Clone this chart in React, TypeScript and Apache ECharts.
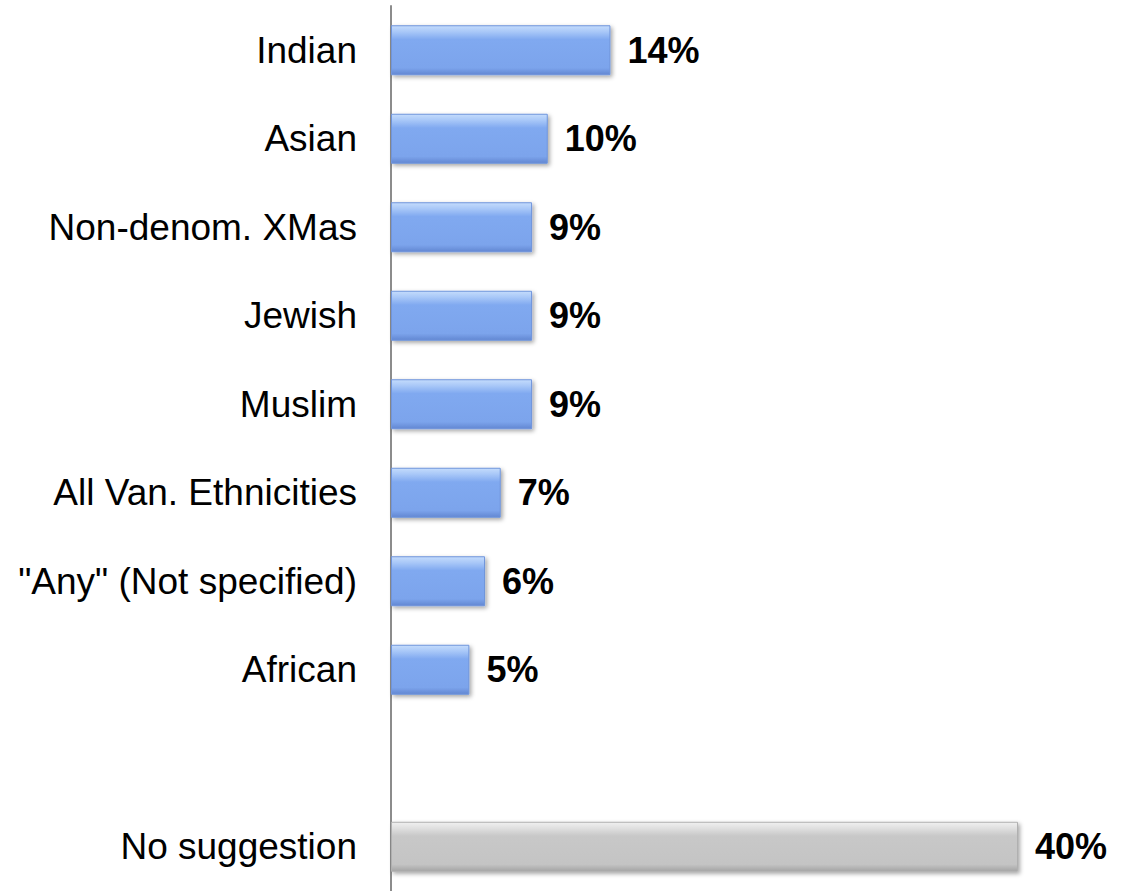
import React, { useEffect, useRef } from "react";
import * as echarts from "echarts";

const categories = [
  "Indian",
  "Asian",
  "Non-denom. XMas",
  "Jewish",
  "Muslim",
  "All Van. Ethnicities",
  '"Any" (Not specified)',
  "African",
  "",
  "No suggestion",
];
const values: (number | null)[] = [14, 10, 9, 9, 9, 7, 6, 5, null, 40];
const grayCategories = ["No suggestion"];

const FONT = "'Liberation Sans', Arial, Helvetica, sans-serif";

const blueFill = new echarts.graphic.LinearGradient(0, 0, 0, 1, [
  { offset: 0, color: "#c4dcfc" },
  { offset: 0.12, color: "#a9c8f8" },
  { offset: 0.28, color: "#80a9f0" },
  { offset: 0.86, color: "#7ca4ec" },
  { offset: 1, color: "#6287d2" },
]);
const grayFill = new echarts.graphic.LinearGradient(0, 0, 0, 1, [
  { offset: 0, color: "#f0f0f0" },
  { offset: 0.12, color: "#e0e0e0" },
  { offset: 0.28, color: "#c8c8c8" },
  { offset: 0.86, color: "#c4c4c4" },
  { offset: 1, color: "#a4a4a4" },
]);

export default function App() {
  const ref = useRef<HTMLDivElement>(null);
  useEffect(() => {
    if (!ref.current) return;
    const chart = echarts.init(ref.current, undefined, { renderer: "svg" });
    const data = values.map((v, i) => ({
      value: v,
      itemStyle: {
        color: grayCategories.includes(categories[i]) ? grayFill : blueFill,
        borderColor: grayCategories.includes(categories[i]) ? "#b0b0b0" : "#6f95dc",
        borderWidth: 1,
        shadowBlur: 4,
        shadowColor: "rgba(0,0,0,0.35)",
        shadowOffsetX: 2,
        shadowOffsetY: 2,
      },
    }));
    chart.setOption({
      animation: false,
      backgroundColor: "#ffffff",
      grid: { left: 391, top: 6, width: 627, height: 886, containLabel: false },
      xAxis: {
        type: "value",
        min: 0,
        max: 40,
        show: false,
      },
      yAxis: {
        type: "category",
        data: categories,
        inverse: true,
        axisLine: { show: true, lineStyle: { color: "#8c8c8c", width: 2 } },
        axisTick: { show: false },
        axisLabel: {
          margin: 34,
          fontSize: 37,
          fontFamily: FONT,
          color: "#000000",
          padding: [6, 0, 0, 0],
        },
        splitLine: { show: false },
      },
      series: [
        {
          type: "bar",
          data,
          barWidth: 50,
          label: {
            show: true,
            position: "right",
            distance: 17,
            formatter: "{c}%",
            fontSize: 36,
            fontWeight: "bold",
            fontFamily: FONT,
            color: "#000000",
            padding: [7, 0, 0, 0],
          },
        },
      ],
    });
    return () => chart.dispose();
  }, []);
  return (
    <div
      ref={ref}
      style={{ position: "fixed", top: 0, left: 0, width: 1130, height: 891, background: "#fff" }}
    />
  );
}
